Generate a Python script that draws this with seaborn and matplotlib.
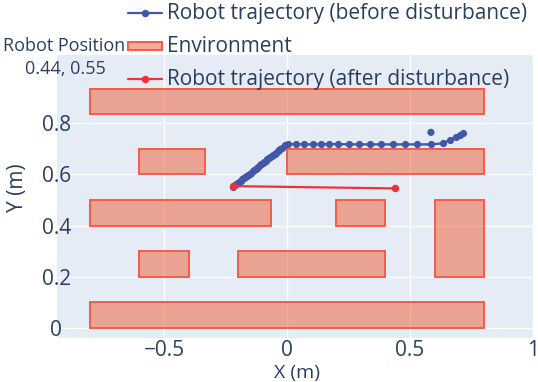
import matplotlib
matplotlib.use("Agg")
import matplotlib.pyplot as plt
import seaborn as sns
import pandas as pd
from matplotlib.patches import Rectangle
from matplotlib.lines import Line2D

# ---------------- data ----------------
before_x = [-0.218, -0.212, -0.206, -0.200, -0.194, -0.188, -0.182, -0.176, -0.170, -0.164,
            -0.158, -0.152, -0.146, -0.140, -0.134, -0.128, -0.122, -0.116, -0.110, -0.104,
            -0.098, -0.092, -0.086, -0.080, -0.074, -0.068, -0.062, -0.056, -0.050, -0.044,
            -0.038, -0.032, -0.027, -0.022,
            -0.008, 0.005, 0.037, 0.070, 0.104, 0.138, 0.172, 0.206, 0.252,
            0.294, 0.337, 0.382, 0.430, 0.478, 0.530, 0.585, 0.633, 0.663, 0.687,
            0.703, 0.717]
before_y = [0.552, 0.557, 0.561, 0.566, 0.570, 0.575, 0.580, 0.584, 0.589, 0.593,
            0.598, 0.603, 0.607, 0.612, 0.616, 0.621, 0.626, 0.630, 0.635, 0.639,
            0.644, 0.649, 0.653, 0.658, 0.662, 0.667, 0.672, 0.676, 0.681, 0.685,
            0.690, 0.695, 0.698, 0.702,
            0.713, 0.718, 0.718, 0.717, 0.717, 0.717, 0.718, 0.718, 0.717,
            0.717, 0.717, 0.717, 0.717, 0.717, 0.717, 0.717, 0.721, 0.734, 0.747,
            0.754, 0.760]
outlier_x = [0.585]
outlier_y = [0.764]
after_x = [-0.218, 0.44]
after_y = [0.554, 0.545]

env_x0 = [-0.80, -0.60, 0.00, -0.80, 0.20, 0.60, -0.60, -0.20, -0.80]
env_x1 = [0.80, -0.333, 0.80, -0.065, 0.40, 0.80, -0.40, 0.40, 0.80]
env_y0 = [0.835, 0.60, 0.60, 0.40, 0.40, 0.20, 0.20, 0.20, 0.00]
env_y1 = [0.935, 0.70, 0.70, 0.50, 0.50, 0.50, 0.30, 0.30, 0.10]

x_ticks = [-0.5, 0, 0.5, 1]
x_tick_labels = ["\u22120.5", "0", "0.5", "1"]
y_ticks = [0, 0.2, 0.4, 0.6, 0.8]
y_tick_labels = ["0", "0.2", "0.4", "0.6", "0.8"]

legend_title = "Robot Position"
legend_subtitle = "0.44, 0.55"
label_before = "Robot trajectory (before disturbance)"
label_env = "Environment"
label_after = "Robot trajectory (after disturbance)"

# ---------------- style ----------------
BLUE = "#4257a8"
RED = "#ee3338"
ENV = "#f05a30"
ENV_EDGE = (0.94, 0.37, 0.28)
TXT = "#2a3f5f"
BG = "#E5ECF6"
FS = 15

sns.set_theme(style="darkgrid", rc={"axes.facecolor": BG, "grid.color": "white"})
plt.rcParams["font.family"] = ["Open Sans", "DejaVu Sans"]

W, H = 538, 382
fig = plt.figure(figsize=(W / 100, H / 100), dpi=100)
fig.patch.set_facecolor("white")

def fx(px):
    return px / W

def fy(py):
    return 1 - py / H

ax = fig.add_axes([fx(57), fy(338), (533 - 57) / W, (338 - 55) / H])
ax.set_facecolor(BG)
for s in ax.spines.values():
    s.set_visible(False)
ax.grid(True, color="white", linewidth=0.9)
ax.set_axisbelow(True)

# environment rectangles
for x0, x1, y0, y1 in zip(env_x0, env_x1, env_y0, env_y1):
    ax.add_patch(Rectangle((x0, y0), x1 - x0, y1 - y0, facecolor=ENV, alpha=0.5,
                           edgecolor="none", zorder=2))
    ax.add_patch(Rectangle((x0, y0), x1 - x0, y1 - y0, facecolor="none",
                           edgecolor=ENV_EDGE, linewidth=1.4, zorder=2.1))

df_before = pd.DataFrame({"x": before_x, "y": before_y})
df_after = pd.DataFrame({"x": after_x, "y": after_y})
df_out = pd.DataFrame({"x": outlier_x, "y": outlier_y})

sns.lineplot(data=df_before, x="x", y="y", sort=False, estimator=None, ax=ax,
             color=BLUE, linewidth=1.7, marker="o", markersize=5.2,
             markeredgewidth=0, zorder=4)
sns.scatterplot(data=df_out, x="x", y="y", ax=ax, color=BLUE, s=27,
                edgecolor="none", zorder=4)
sns.lineplot(data=df_after, x="x", y="y", sort=False, estimator=None, ax=ax,
             color=RED, linewidth=1.6, marker="o", markersize=5.4,
             markeredgewidth=0, zorder=5)

ax.set_xlim(-0.935, 1.0)
ax.set_ylim(-0.039, 1.066)
ax.set_xticks(x_ticks)
ax.set_xticklabels(x_tick_labels)
ax.set_yticks(y_ticks)
ax.set_yticklabels(y_tick_labels)
ax.tick_params(axis="both", length=0, labelsize=FS, labelcolor=TXT)
ax.tick_params(axis="x", pad=1.5)
ax.tick_params(axis="y", pad=0.5)
for lab in ax.get_yticklabels():
    lab.set_horizontalalignment("center")
ax.set_xlabel("")
ax.set_ylabel("")

fig.text(fx(297), fy(373), "X (m)", ha="center", va="center", fontsize=14, color=TXT)
fig.text(fx(18), fy(188), "Y (m)", ha="center", va="center", fontsize=FS,
         color=TXT, rotation=90)

# ---------------- legend (drawn manually) ----------------
fig.text(fx(64), fy(46), legend_title, ha="center", va="center", fontsize=13, color=TXT)
fig.text(fx(65), fy(69), legend_subtitle, ha="center", va="center", fontsize=13, color=TXT)

rows = [(13, label_before), (46, label_env), (79, label_after)]
for yrow, lab in rows:
    fig.text(fx(167), fy(yrow), lab, ha="left", va="center", fontsize=FS, color=TXT)

fig.add_artist(Line2D([fx(128), fx(162)], [fy(13), fy(13)], color=BLUE, linewidth=1.6,
                      transform=fig.transFigure))
fig.add_artist(Line2D([fx(145)], [fy(13)], color=BLUE, marker="o", markersize=5.4,
                      markeredgewidth=0, transform=fig.transFigure))
fig.add_artist(Rectangle((fx(128), fy(50)), fx(162) - fx(128), fy(42) - fy(50),
                         facecolor=ENV, alpha=0.5, edgecolor="none",
                         transform=fig.transFigure))
fig.add_artist(Rectangle((fx(128), fy(50)), fx(162) - fx(128), fy(42) - fy(50),
                         facecolor="none", edgecolor=ENV_EDGE, linewidth=1.4,
                         transform=fig.transFigure))
fig.add_artist(Line2D([fx(128), fx(162)], [fy(79), fy(79)], color=RED, linewidth=1.6,
                      transform=fig.transFigure))
fig.add_artist(Line2D([fx(145)], [fy(79)], color=RED, marker="o", markersize=5.4,
                      markeredgewidth=0, transform=fig.transFigure))

fig.savefig("out.png", dpi=100, facecolor="white")
